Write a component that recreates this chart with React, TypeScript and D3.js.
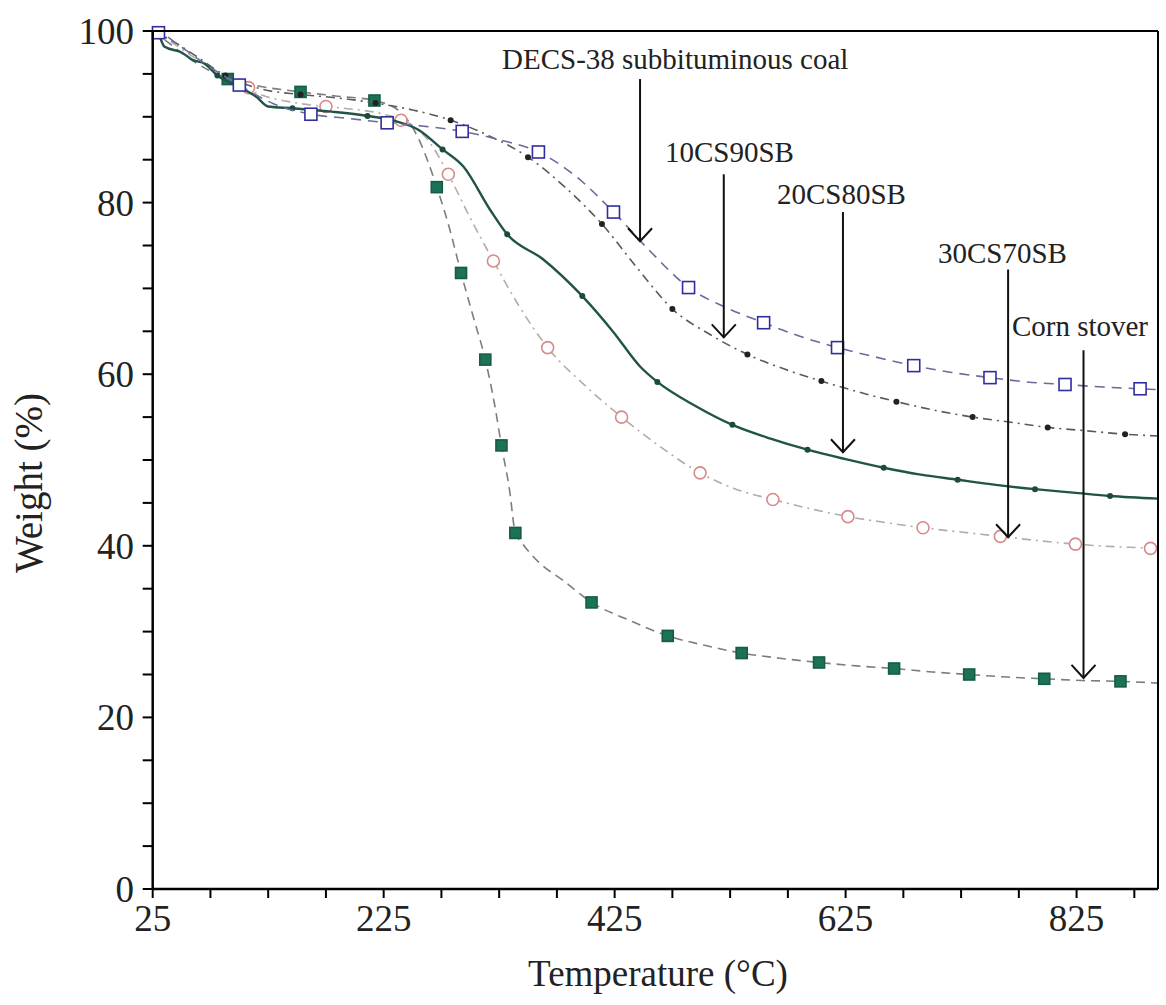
import React from 'react';
import * as d3 from 'd3';

type P = [number, number];

// Temperature (°C) vs Weight (%)
const decsLine: P[] = [[25,100],[32,99.8],[45,98.6],[70,96.2],[100,93.7],[130,91.5],[162,90.3],[195,89.8],[228,89.3],[260,88.9],[293,88.3],[326,87.3],[359,85.9],[392,83],[424,78.9],[456,74.3],[489,70.1],[521,67.8],[554,66.0],[586,64.4],[618,63.1],[651,62],[684,61.0],[717,60.2],[750,59.6],[782,59.1],[815,58.8],[848,58.5],[880,58.3],[895.5,58.2]];
const decsMarkers: P[] = [[30,99.8],[100,93.7],[162,90.3],[228,89.3],[293,88.3],[359,85.9],[424,78.9],[489,70.1],[554,66.0],[618,63.1],[684,61.0],[750,59.6],[815,58.8],[880,58.3]];

const cs10Line: P[] = [[25,100],[40,99],[60,97.3],[88,94.8],[120,93.2],[153,92.6],[185,92.2],[218,91.6],[250,90.8],[283,89.6],[316,87.8],[350,85.3],[382,81.8],[414,77.5],[445,72.3],[475,67.6],[508,64.6],[540,62.3],[572,60.6],[604,59.2],[637,57.9],[669,56.8],[702,55.8],[735,55.0],[768,54.4],[800,53.8],[834,53.4],[867,53.0],[895.5,52.8]];
const cs10Markers: P[] = [[88,94.8],[153,92.6],[218,91.6],[283,89.6],[350,85.3],[414,77.5],[475,67.6],[540,62.3],[604,59.2],[669,56.8],[735,55.0],[800,53.8],[867,53.0]];

const cs20Line: P[] = [[25,100],[30,99.6],[35,98.2],[50,97.5],[60,96.6],[70,96.2],[81,94.8],[100,93.5],[115,92.3],[125,91.2],[146,91.0],[180,90.6],[211,90.1],[235,89.5],[255,88.5],[276,86.2],[294,84.2],[317,79.2],[332,76.3],[363,73.4],[397,69.1],[424,64.9],[447,60.9],[462,59.1],[495,56.3],[527,54.1],[560,52.5],[592,51.2],[625,50.1],[658,49.1],[690,48.3],[722,47.7],[755,47.1],[789,46.6],[822,46.2],[854,45.8],[895.5,45.5]];
const cs20Markers: P[] = [[81,94.8],[146,91.0],[211,90.1],[276,86.2],[332,76.3],[397,69.1],[462,59.1],[527,54.1],[592,51.2],[658,49.1],[722,47.7],[789,46.6],[854,45.8]];

const cs30Line: P[] = [[25,100],[40,98.8],[60,97],[90,94.5],[120,92.5],[150,91.6],[190,91],[225,90.3],[250,89],[265,87],[281,83.3],[300,78.2],[320,73.2],[342,68],[367,63.1],[400,58.6],[431,55.0],[465,51.5],[499,48.5],[530,46.6],[562,45.4],[595,44.3],[627,43.4],[660,42.7],[692,42.1],[725,41.6],[759,41.1],[792,40.6],[824,40.2],[857,39.9],[889,39.7],[895.5,39.6]];
const cs30Markers: P[] = [[108,93.4],[175,91.2],[240,89.6],[281,83.3],[320,73.2],[367,63.1],[431,55.0],[499,48.5],[562,45.4],[627,43.4],[692,42.1],[759,41.1],[824,40.2],[889,39.7]];

const cornLine: P[] = [[25,100],[35,99],[60,96.5],[90,94.4],[120,93.5],[153,92.9],[185,92.4],[217,91.9],[240,90.5],[255,87.5],[271,81.8],[282,77],[292,71.8],[303,66.5],[313,61.7],[321,56.5],[327,51.7],[334,46.5],[339,41.5],[345,40.3],[360,38.0],[380,36.0],[405,33.4],[438,31.3],[471,29.5],[503,28.4],[535,27.5],[568,26.9],[602,26.4],[635,26.0],[667,25.7],[700,25.3],[732,25.0],[765,24.7],[797,24.5],[830,24.3],[863,24.2],[895.5,24.0]];
const cornMarkers: P[] = [[90,94.4],[153,92.9],[217,91.9],[271,81.8],[292,71.8],[313,61.7],[327,51.7],[339,41.5],[405,33.4],[471,29.5],[535,27.5],[602,26.4],[667,25.7],[732,25.0],[797,24.5],[863,24.2]];

const xMajor = [25, 225, 425, 625, 825];
const xMinor = [75, 125, 175, 275, 325, 375, 475, 525, 575, 675, 725, 775, 875];
const yMajor = [0, 20, 40, 60, 80, 100];
const yMinor = [5, 10, 15, 25, 30, 35, 45, 50, 55, 65, 70, 75, 85, 90, 95];

// annotations: label, label anchor (T, W), arrow T, arrow top W, arrow tip W
const annLabels = ['DECS-38 subbituminous coal', '10CS90SB', '20CS80SB', '30CS70SB', 'Corn stover'];
const annLabelT = [327.5, 468.6, 565.6, 705, 769];
const annLabelW = [95.6, 84.7, 79.8, 73.0, 64.4];
const annArrowT = [447, 519.5, 622.7, 765.7, 831];
const annArrowTopW = [94.4, 83.3, 78.9, 72.2, 62.8];
const annArrowTipW = [75.5, 64.3, 50.9, 41.0, 24.6];

const series = [
  { name: 'Corn stover', line: cornLine, markers: cornMarkers, stroke: '#7d7d7d', dash: '9 6', width: 1.6, shape: 'fsq', mStroke: '#155c46', mFill: '#1b7257', size: 11 },
  { name: '30CS70SB', line: cs30Line, markers: cs30Markers, stroke: '#b4abab', dash: '9 5 2 5', width: 1.6, shape: 'circle', mStroke: '#d78a8a', mFill: '#ffffff', size: 6 },
  { name: '20CS80SB', line: cs20Line, markers: cs20Markers, stroke: '#1f5447', dash: '', width: 2.4, shape: 'dot', mStroke: '#1b4a3e', mFill: '#1b4a3e', size: 3 },
  { name: '10CS90SB', line: cs10Line, markers: cs10Markers, stroke: '#5a5a5a', dash: '9 5 2 5', width: 1.6, shape: 'dot', mStroke: '#222', mFill: '#222', size: 3 },
  { name: 'DECS-38', line: decsLine, markers: decsMarkers, stroke: '#6a6a9c', dash: '10 7', width: 1.6, shape: 'osq', mStroke: '#2e2ea0', mFill: '#ffffff', size: 12 },
];

export default function App() {
  const x = d3.scaleLinear().domain([25, 895.5]).range([152.7, 1158]);
  const y = d3.scaleLinear().domain([0, 100]).range([889, 31]);
  const line = d3.line<P>().x(d => x(d[0])).y(d => y(d[1])).curve(d3.curveMonotoneX);
  const font = "'Liberation Serif', 'Times New Roman', serif";
  const x0 = x(25), x1 = x(895.5), y0 = y(0), y1 = y(100);

  return (
    <svg width={1166} height={1005} style={{ position: 'absolute', left: 0, top: 0, background: '#fff' }} fontFamily={font}>
      <rect x={0} y={0} width={1166} height={1005} fill="#fff" />
      {series.map(s => (
        <g key={s.name}>
          <path d={line(s.line) || ''} fill="none" stroke={s.stroke} strokeWidth={s.width} strokeDasharray={s.dash || undefined} />
          {s.markers.map((m, i) => {
            const cx = x(m[0]), cy = y(m[1]);
            if (s.shape === 'circle') return <circle key={i} cx={cx} cy={cy} r={s.size} fill={s.mFill} stroke={s.mStroke} strokeWidth={1.6} />;
            if (s.shape === 'dot') return <circle key={i} cx={cx} cy={cy} r={s.size} fill={s.mFill} />;
            return <rect key={i} x={cx - s.size / 2} y={cy - s.size / 2} width={s.size} height={s.size} fill={s.mFill} stroke={s.mStroke} strokeWidth={1.6} />;
          })}
        </g>
      ))}
      {/* frame */}
      <line x1={x0} x2={x1} y1={y1} y2={y1} stroke="#000" strokeWidth={2} />
      <line x1={x1} x2={x1} y1={y1} y2={y0} stroke="#000" strokeWidth={2} />
      <line x1={x0} x2={x1} y1={y0} y2={y0} stroke="#000" strokeWidth={2.5} />
      <line x1={x0} x2={x0} y1={y1} y2={y0} stroke="#000" strokeWidth={2.5} />
      {/* x ticks */}
      {xMajor.concat(xMinor).map(t => (
        <line key={'xt' + t} x1={x(t)} x2={x(t)} y1={y0} y2={y0 + 9} stroke="#000" strokeWidth={2} />
      ))}
      {xMajor.map(t => (
        <text key={'xl' + t} x={x(t)} y={931} textAnchor="middle" fontSize={37} fill="#222">{t}</text>
      ))}
      {/* y ticks */}
      {yMajor.concat(yMinor).map(t => (
        <line key={'yt' + t} x1={x0 - 10} x2={x0} y1={y(t)} y2={y(t)} stroke="#000" strokeWidth={2} />
      ))}
      {yMajor.map(t => (
        <text key={'yl' + t} x={134} y={y(t)} dy="0.35em" textAnchor="end" fontSize={37} fill="#222">{t}</text>
      ))}
      <text x={658} y={986} textAnchor="middle" fontSize={37} fill="#222">Temperature (°C)</text>
      <text transform="translate(42,483) rotate(-90)" textAnchor="middle" fontSize={39} fill="#222">Weight (%)</text>
      {/* annotations */}
      {annLabels.map((lab, i) => {
        const ax = x(annArrowT[i]);
        const top = y(annArrowTopW[i]);
        const tip = y(annArrowTipW[i]);
        return (
          <g key={lab}>
            <text x={x(annLabelT[i])} y={y(annLabelW[i])} fontSize={29} fill="#222">{lab}</text>
            <line x1={ax} x2={ax} y1={top} y2={tip} stroke="#111" strokeWidth={2} />
            <path d={`M${ax - 12},${tip - 13}L${ax},${tip}L${ax + 12},${tip - 13}`} fill="none" stroke="#111" strokeWidth={2} />
          </g>
        );
      })}
    </svg>
  );
}
